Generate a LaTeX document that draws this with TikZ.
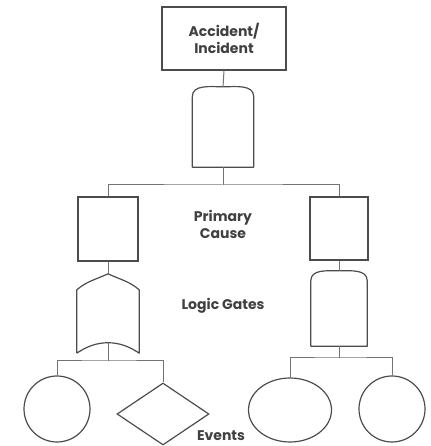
\documentclass[tikz,border=0pt]{standalone}
\usepackage{fontspec}
\setmainfont{Poppins}
\usetikzlibrary{shapes.geometric}
\definecolor{fLine}{gray}{0.3}
\definecolor{fWire}{gray}{0.45}
\definecolor{fText}{gray}{0.25}
\tikzset{
    evbox/.style={rectangle, draw=fLine, line width=1.2pt, inner sep=0pt},
    gatebox/.style={rectangle, inner sep=0pt},
    gateline/.style={draw=fLine, line width=1.2pt, line join=round},
    evt/.style={draw=fLine, line width=1.2pt, inner sep=0pt},
    wire/.style={draw=fWire, line width=1pt},
    lbl/.style={font=\bfseries\fontsize{14}{17}\selectfont, text=fText, align=center}
}

\begin{document}
\begin{tikzpicture}[x=1pt,y=1pt]
\useasboundingbox (0,0) rectangle (430,446);
% top event and the boxes under it
\node[evbox, minimum width=124pt, minimum height=63pt, lbl] (acc) at (224,407.5) {Accident/\\Incident};
\node[evbox, minimum width=60pt, minimum height=64pt] (pc1) at (108,217) {};
\node[evbox, minimum width=58pt, minimum height=63pt] (pc2) at (339,217.5) {};
% gates
\node[gatebox, minimum width=61pt, minimum height=80pt] (and0) at (223,319) {};
\node[gatebox, minimum width=62pt, minimum height=79pt] (or1) at (108,132.5) {};
\node[gatebox, minimum width=56pt, minimum height=75pt] (and2) at (339,137.5) {};
\draw[gateline] (and0.south west) -- ([yshift=-10pt]and0.north west) to[out=90,in=180] (and0.north)
    to[out=0,in=90] ([yshift=-10pt]and0.north east) -- (and0.south east) -- cycle;
\draw[gateline] (and2.south west) -- ([yshift=-10pt]and2.north west) to[out=90,in=180] (and2.north)
    to[out=0,in=90] ([yshift=-10pt]and2.north east) -- (and2.south east) -- cycle;
\draw[gateline] (or1.south west) -- ([yshift=-16pt]or1.north west) to[out=40,in=205] (or1.north)
    to[out=-25,in=140] ([yshift=-16pt]or1.north east) -- (or1.south east)
    to[out=145,in=35] (or1.south west);
% basic events
\node[evt, circle, minimum size=66pt] (ev1) at (57,37) {};
\node[evt, diamond, minimum width=92pt, minimum height=62pt] (ev2) at (163,32) {};
\node[evt, ellipse, minimum width=83pt, minimum height=64pt] (ev3) at (290,36) {};
\node[evt, circle, minimum size=66pt] (ev4) at (392,37) {};
% junctions
\coordinate (j0) at (223,261);
\coordinate (j1) at (108,85);
\coordinate (j2) at (339,88);
% wires
\draw[wire] (acc.south) -- (and0.north);
\draw[wire] (and0.south) -- (j0);
\draw[wire] (pc1.north) |- (j0) -| (pc2.north);
\draw[wire] (pc1.south) -- (or1.north);
\draw[wire] (pc2.south) -- (and2.north);
\draw[wire] ([yshift=10pt]or1.south) -- (j1);
\draw[wire] (ev1.north) |- (j1) -| (ev2.north);
\draw[wire] (and2.south) -- (j2);
\draw[wire] (ev3.north) |- (j2) -| (ev4.north);
% labels
\node[lbl] (lprim) at (223,222) {Primary\\Cause};
\node[lbl] (llog) at (223,140) {Logic Gates};
\node[lbl, inner sep=1pt] (lev) at (221,10) {Events};
\end{tikzpicture}
\end{document}
